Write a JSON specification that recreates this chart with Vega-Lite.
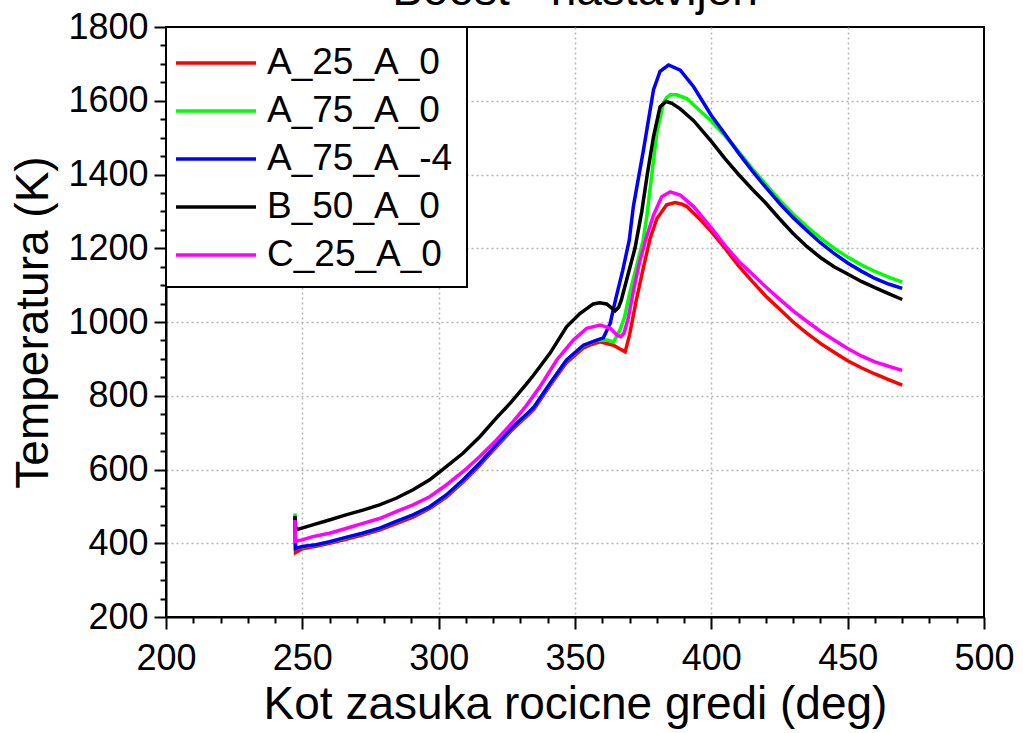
{
"$schema": "https://vega.github.io/schema/vega-lite/v6.json",
"width": 818, "height": 590,
"autosize": "none",
"padding": {"left": 166, "top": 27, "right": 39, "bottom": 116},
"background": "white",
"title": {"text": "Boost - nastavljen", "fontSize": 46, "font": "Liberation Sans", "fontWeight": "normal", "color": "black", "baseline": "alphabetic", "offset": -42, "frame": "group", "anchor": "middle"},
"data": {"values": [
{"s":"A_25_A_0","x":247.3,"y":466},{"s":"A_25_A_0","x":247.5,"y":375},{"s":"A_25_A_0","x":250,"y":385},{"s":"A_25_A_0","x":255,"y":392},{"s":"A_25_A_0","x":260,"y":400},{"s":"A_25_A_0","x":266,"y":411},{"s":"A_25_A_0","x":272,"y":422},{"s":"A_25_A_0","x":278,"y":435},{"s":"A_25_A_0","x":284,"y":452},{"s":"A_25_A_0","x":290.6,"y":471},{"s":"A_25_A_0","x":296.7,"y":494},{"s":"A_25_A_0","x":302.8,"y":525},{"s":"A_25_A_0","x":309,"y":566},{"s":"A_25_A_0","x":315,"y":611},{"s":"A_25_A_0","x":321,"y":660},{"s":"A_25_A_0","x":327,"y":708},{"s":"A_25_A_0","x":333,"y":749},{"s":"A_25_A_0","x":335,"y":764},{"s":"A_25_A_0","x":340.8,"y":827},{"s":"A_25_A_0","x":346.9,"y":890},{"s":"A_25_A_0","x":353,"y":929},{"s":"A_25_A_0","x":356,"y":939},{"s":"A_25_A_0","x":359.2,"y":946},{"s":"A_25_A_0","x":362,"y":941},{"s":"A_25_A_0","x":364.1,"y":937},{"s":"A_25_A_0","x":366.5,"y":927},{"s":"A_25_A_0","x":368.4,"y":919},{"s":"A_25_A_0","x":370,"y":965},{"s":"A_25_A_0","x":372.5,"y":1060},{"s":"A_25_A_0","x":375,"y":1145},{"s":"A_25_A_0","x":377.5,"y":1225},{"s":"A_25_A_0","x":380,"y":1280},{"s":"A_25_A_0","x":383.6,"y":1318},{"s":"A_25_A_0","x":386.7,"y":1324},{"s":"A_25_A_0","x":389,"y":1320},{"s":"A_25_A_0","x":391,"y":1313},{"s":"A_25_A_0","x":395.9,"y":1278},{"s":"A_25_A_0","x":400,"y":1245},{"s":"A_25_A_0","x":405,"y":1200},{"s":"A_25_A_0","x":410,"y":1152},{"s":"A_25_A_0","x":415,"y":1110},{"s":"A_25_A_0","x":420,"y":1070},{"s":"A_25_A_0","x":425,"y":1035},{"s":"A_25_A_0","x":430,"y":1000},{"s":"A_25_A_0","x":435,"y":970},{"s":"A_25_A_0","x":440,"y":942},{"s":"A_25_A_0","x":445,"y":918},{"s":"A_25_A_0","x":450,"y":895},{"s":"A_25_A_0","x":455,"y":876},{"s":"A_25_A_0","x":460,"y":859},{"s":"A_25_A_0","x":465,"y":844},{"s":"A_25_A_0","x":470,"y":829},
{"s":"A_75_A_0","x":247.3,"y":481},{"s":"A_75_A_0","x":247.5,"y":386},{"s":"A_75_A_0","x":250,"y":390},{"s":"A_75_A_0","x":255,"y":395},{"s":"A_75_A_0","x":260,"y":403},{"s":"A_75_A_0","x":266,"y":415},{"s":"A_75_A_0","x":272,"y":426},{"s":"A_75_A_0","x":278,"y":439},{"s":"A_75_A_0","x":284,"y":457},{"s":"A_75_A_0","x":290.6,"y":476},{"s":"A_75_A_0","x":296.7,"y":498},{"s":"A_75_A_0","x":302.8,"y":530},{"s":"A_75_A_0","x":309,"y":571},{"s":"A_75_A_0","x":315,"y":616},{"s":"A_75_A_0","x":321,"y":665},{"s":"A_75_A_0","x":327,"y":713},{"s":"A_75_A_0","x":333,"y":754},{"s":"A_75_A_0","x":335,"y":769},{"s":"A_75_A_0","x":340.8,"y":832},{"s":"A_75_A_0","x":346.9,"y":896},{"s":"A_75_A_0","x":353.1,"y":936},{"s":"A_75_A_0","x":358,"y":950},{"s":"A_75_A_0","x":361.6,"y":951},{"s":"A_75_A_0","x":364.2,"y":946},{"s":"A_75_A_0","x":366.4,"y":977},{"s":"A_75_A_0","x":368.2,"y":1014},{"s":"A_75_A_0","x":370,"y":1077},{"s":"A_75_A_0","x":372.5,"y":1149},{"s":"A_75_A_0","x":375,"y":1222},{"s":"A_75_A_0","x":376.3,"y":1285},{"s":"A_75_A_0","x":378,"y":1390},{"s":"A_75_A_0","x":380,"y":1512},{"s":"A_75_A_0","x":382.4,"y":1593},{"s":"A_75_A_0","x":383.6,"y":1609},{"s":"A_75_A_0","x":385,"y":1616},{"s":"A_75_A_0","x":387.3,"y":1616},{"s":"A_75_A_0","x":391,"y":1606},{"s":"A_75_A_0","x":395.9,"y":1572},{"s":"A_75_A_0","x":400,"y":1545},{"s":"A_75_A_0","x":405,"y":1505},{"s":"A_75_A_0","x":410,"y":1462},{"s":"A_75_A_0","x":415,"y":1416},{"s":"A_75_A_0","x":420,"y":1373},{"s":"A_75_A_0","x":425,"y":1331},{"s":"A_75_A_0","x":430,"y":1293},{"s":"A_75_A_0","x":435,"y":1259},{"s":"A_75_A_0","x":440,"y":1228},{"s":"A_75_A_0","x":445,"y":1200},{"s":"A_75_A_0","x":450,"y":1176},{"s":"A_75_A_0","x":455,"y":1155},{"s":"A_75_A_0","x":460,"y":1137},{"s":"A_75_A_0","x":465,"y":1122},{"s":"A_75_A_0","x":470,"y":1108},
{"s":"A_75_A_-4","x":247.3,"y":472},{"s":"A_75_A_-4","x":247.5,"y":386},{"s":"A_75_A_-4","x":250,"y":391},{"s":"A_75_A_-4","x":255,"y":396},{"s":"A_75_A_-4","x":260,"y":404},{"s":"A_75_A_-4","x":266,"y":416},{"s":"A_75_A_-4","x":272,"y":427},{"s":"A_75_A_-4","x":278,"y":440},{"s":"A_75_A_-4","x":284,"y":458},{"s":"A_75_A_-4","x":290.6,"y":477},{"s":"A_75_A_-4","x":296.7,"y":499},{"s":"A_75_A_-4","x":302.8,"y":531},{"s":"A_75_A_-4","x":309,"y":572},{"s":"A_75_A_-4","x":315,"y":617},{"s":"A_75_A_-4","x":321,"y":666},{"s":"A_75_A_-4","x":327,"y":714},{"s":"A_75_A_-4","x":333,"y":755},{"s":"A_75_A_-4","x":335,"y":770},{"s":"A_75_A_-4","x":340.8,"y":833},{"s":"A_75_A_-4","x":346.9,"y":897},{"s":"A_75_A_-4","x":353.1,"y":937},{"s":"A_75_A_-4","x":358,"y":951},{"s":"A_75_A_-4","x":360.4,"y":957},{"s":"A_75_A_-4","x":362.9,"y":996},{"s":"A_75_A_-4","x":365,"y":1065},{"s":"A_75_A_-4","x":367.5,"y":1140},{"s":"A_75_A_-4","x":369.9,"y":1222},{"s":"A_75_A_-4","x":371.4,"y":1313},{"s":"A_75_A_-4","x":375.1,"y":1466},{"s":"A_75_A_-4","x":378.8,"y":1630},{"s":"A_75_A_-4","x":381.2,"y":1680},{"s":"A_75_A_-4","x":384.3,"y":1697},{"s":"A_75_A_-4","x":388.6,"y":1683},{"s":"A_75_A_-4","x":393.5,"y":1638},{"s":"A_75_A_-4","x":400,"y":1560},{"s":"A_75_A_-4","x":405,"y":1510},{"s":"A_75_A_-4","x":410,"y":1458},{"s":"A_75_A_-4","x":415,"y":1410},{"s":"A_75_A_-4","x":420,"y":1365},{"s":"A_75_A_-4","x":425,"y":1322},{"s":"A_75_A_-4","x":430,"y":1283},{"s":"A_75_A_-4","x":435,"y":1248},{"s":"A_75_A_-4","x":440,"y":1215},{"s":"A_75_A_-4","x":445,"y":1186},{"s":"A_75_A_-4","x":450,"y":1160},{"s":"A_75_A_-4","x":455,"y":1138},{"s":"A_75_A_-4","x":460,"y":1118},{"s":"A_75_A_-4","x":465,"y":1103},{"s":"A_75_A_-4","x":470,"y":1091},
{"s":"B_50_A_0","x":247.3,"y":474},{"s":"B_50_A_0","x":247.6,"y":436},{"s":"B_50_A_0","x":253.8,"y":450},{"s":"B_50_A_0","x":259.9,"y":463},{"s":"B_50_A_0","x":266,"y":477},{"s":"B_50_A_0","x":272.2,"y":490},{"s":"B_50_A_0","x":278.3,"y":504},{"s":"B_50_A_0","x":284.4,"y":522},{"s":"B_50_A_0","x":290.6,"y":545},{"s":"B_50_A_0","x":296.7,"y":572},{"s":"B_50_A_0","x":302.8,"y":608},{"s":"B_50_A_0","x":308.9,"y":644},{"s":"B_50_A_0","x":315.1,"y":689},{"s":"B_50_A_0","x":321.2,"y":740},{"s":"B_50_A_0","x":326.5,"y":782},{"s":"B_50_A_0","x":332,"y":830},{"s":"B_50_A_0","x":334.7,"y":855},{"s":"B_50_A_0","x":340.8,"y":915},{"s":"B_50_A_0","x":346.9,"y":987},{"s":"B_50_A_0","x":351.8,"y":1023},{"s":"B_50_A_0","x":356.7,"y":1049},{"s":"B_50_A_0","x":359,"y":1052},{"s":"B_50_A_0","x":361.6,"y":1049},{"s":"B_50_A_0","x":364.7,"y":1030},{"s":"B_50_A_0","x":366,"y":1040},{"s":"B_50_A_0","x":367,"y":1060},{"s":"B_50_A_0","x":369.5,"y":1130},{"s":"B_50_A_0","x":372,"y":1200},{"s":"B_50_A_0","x":374.5,"y":1300},{"s":"B_50_A_0","x":376.5,"y":1400},{"s":"B_50_A_0","x":378.8,"y":1503},{"s":"B_50_A_0","x":381.2,"y":1584},{"s":"B_50_A_0","x":383.5,"y":1598},{"s":"B_50_A_0","x":385.5,"y":1593},{"s":"B_50_A_0","x":388.6,"y":1578},{"s":"B_50_A_0","x":393.5,"y":1546},{"s":"B_50_A_0","x":400,"y":1490},{"s":"B_50_A_0","x":405,"y":1443},{"s":"B_50_A_0","x":410,"y":1400},{"s":"B_50_A_0","x":415,"y":1360},{"s":"B_50_A_0","x":420,"y":1322},{"s":"B_50_A_0","x":425,"y":1280},{"s":"B_50_A_0","x":430,"y":1240},{"s":"B_50_A_0","x":435,"y":1205},{"s":"B_50_A_0","x":440,"y":1175},{"s":"B_50_A_0","x":445,"y":1150},{"s":"B_50_A_0","x":450,"y":1130},{"s":"B_50_A_0","x":455,"y":1110},{"s":"B_50_A_0","x":460,"y":1093},{"s":"B_50_A_0","x":465,"y":1077},{"s":"B_50_A_0","x":470,"y":1061},
{"s":"C_25_A_0","x":247.3,"y":463},{"s":"C_25_A_0","x":247.5,"y":405},{"s":"C_25_A_0","x":249.9,"y":409},{"s":"C_25_A_0","x":253.8,"y":418},{"s":"C_25_A_0","x":259.9,"y":427},{"s":"C_25_A_0","x":266,"y":440},{"s":"C_25_A_0","x":272.2,"y":454},{"s":"C_25_A_0","x":278.3,"y":467},{"s":"C_25_A_0","x":284.4,"y":486},{"s":"C_25_A_0","x":290.6,"y":504},{"s":"C_25_A_0","x":296.7,"y":526},{"s":"C_25_A_0","x":302.8,"y":558},{"s":"C_25_A_0","x":308.9,"y":594},{"s":"C_25_A_0","x":315.1,"y":635},{"s":"C_25_A_0","x":321.2,"y":680},{"s":"C_25_A_0","x":327.3,"y":730},{"s":"C_25_A_0","x":332,"y":772},{"s":"C_25_A_0","x":337.1,"y":824},{"s":"C_25_A_0","x":343.3,"y":897},{"s":"C_25_A_0","x":349.4,"y":951},{"s":"C_25_A_0","x":354.3,"y":983},{"s":"C_25_A_0","x":359.2,"y":992},{"s":"C_25_A_0","x":362.9,"y":983},{"s":"C_25_A_0","x":365.7,"y":963},{"s":"C_25_A_0","x":366.8,"y":960},{"s":"C_25_A_0","x":368,"y":970},{"s":"C_25_A_0","x":369.5,"y":1010},{"s":"C_25_A_0","x":371.3,"y":1080},{"s":"C_25_A_0","x":373.6,"y":1160},{"s":"C_25_A_0","x":376,"y":1225},{"s":"C_25_A_0","x":378.8,"y":1290},{"s":"C_25_A_0","x":381.8,"y":1340},{"s":"C_25_A_0","x":384.9,"y":1353},{"s":"C_25_A_0","x":388.6,"y":1344},{"s":"C_25_A_0","x":393.5,"y":1313},{"s":"C_25_A_0","x":400,"y":1255},{"s":"C_25_A_0","x":405,"y":1208},{"s":"C_25_A_0","x":410,"y":1165},{"s":"C_25_A_0","x":415,"y":1130},{"s":"C_25_A_0","x":420,"y":1095},{"s":"C_25_A_0","x":425,"y":1062},{"s":"C_25_A_0","x":430,"y":1030},{"s":"C_25_A_0","x":435,"y":1002},{"s":"C_25_A_0","x":440,"y":975},{"s":"C_25_A_0","x":445,"y":951},{"s":"C_25_A_0","x":450,"y":928},{"s":"C_25_A_0","x":455,"y":908},{"s":"C_25_A_0","x":460,"y":892},{"s":"C_25_A_0","x":465,"y":880},{"s":"C_25_A_0","x":470,"y":869}
]},
"encoding": {
"x": {"field": "x", "type": "quantitative", "scale": {"domain": [200, 500], "nice": false, "zero": false}, "axis": {"title": "Kot zasuka rocicne gredi (deg)", "values": [200,210,220,230,240,250,260,270,280,290,300,310,320,330,340,350,360,370,380,390,400,410,420,430,440,450,460,470,480,490,500], "format": "d", "labelExpr": "datum.value % 50 === 0 ? datum.label : ''", "tickSize": {"condition": {"test": "datum.value % 50 === 0", "value": 12}, "value": 6}, "gridOpacity": {"condition": {"test": "datum.value % 50 === 0 && datum.value > 200 && datum.value < 500", "value": 1}, "value": 0}, "labelPadding": 12, "titlePadding": 6}},
"y": {"field": "y", "type": "quantitative", "scale": {"domain": [200, 1800], "nice": false, "zero": false}, "axis": {"title": "Temperatura (K)", "values": [200,250,300,350,400,450,500,550,600,650,700,750,800,850,900,950,1000,1050,1100,1150,1200,1250,1300,1350,1400,1450,1500,1550,1600,1650,1700,1750,1800], "format": "d", "labelExpr": "datum.value % 200 === 0 ? datum.label : ''", "tickSize": {"condition": {"test": "datum.value % 200 === 0", "value": 12}, "value": 6}, "gridOpacity": {"condition": {"test": "datum.value % 200 === 0 && datum.value > 200 && datum.value < 1800", "value": 1}, "value": 0}, "labelPadding": 6, "titlePadding": 10}},
"color": {"field": "s", "type": "nominal", "scale": {"domain": ["A_25_A_0", "A_75_A_0", "A_75_A_-4", "B_50_A_0", "C_25_A_0"], "range": ["#ff0000", "#00ff00", "#0000ff", "#000000", "#ff00ff"]}, "legend": {"title": null}}
},
"layer": [
{"transform": [{"filter": "datum.s === 'A_25_A_0'"}], "mark": {"type": "line", "strokeWidth": 3.5}},
{"transform": [{"filter": "datum.s === 'A_75_A_0'"}], "mark": {"type": "line", "strokeWidth": 3.5}},
{"transform": [{"filter": "datum.s === 'A_75_A_-4'"}], "mark": {"type": "line", "strokeWidth": 3.5}},
{"transform": [{"filter": "datum.s === 'B_50_A_0'"}], "mark": {"type": "line", "strokeWidth": 3.5}},
{"transform": [{"filter": "datum.s === 'C_25_A_0'"}], "mark": {"type": "line", "strokeWidth": 3.5}}
],
"config": {
"view": {"stroke": "black", "strokeWidth": 2},
"axis": {"domainColor": "black", "domainWidth": 2, "tickColor": "black", "tickWidth": 2, "labelFont": "Liberation Sans", "labelFontSize": 36, "labelColor": "black", "labelOverlap": false, "labelFlush": false, "titleFont": "Liberation Sans", "titleFontSize": 46, "titleFontWeight": "normal", "titleColor": "black", "grid": true, "gridColor": "#b4b4b4", "gridDash": [2, 3], "gridWidth": 1.5},
"legend": {"orient": "top-left", "offset": 0, "strokeColor": "black", "strokeWidth": 2, "fillColor": "white", "padding": 14, "symbolType": "M-2,0H2", "symbolSize": 1600, "symbolStrokeWidth": 3.5, "labelFontSize": 37, "labelFont": "Liberation Sans", "labelColor": "black", "labelLimit": 400, "symbolOffset": 14, "labelOffset": 29, "rowPadding": 8}
}
}
